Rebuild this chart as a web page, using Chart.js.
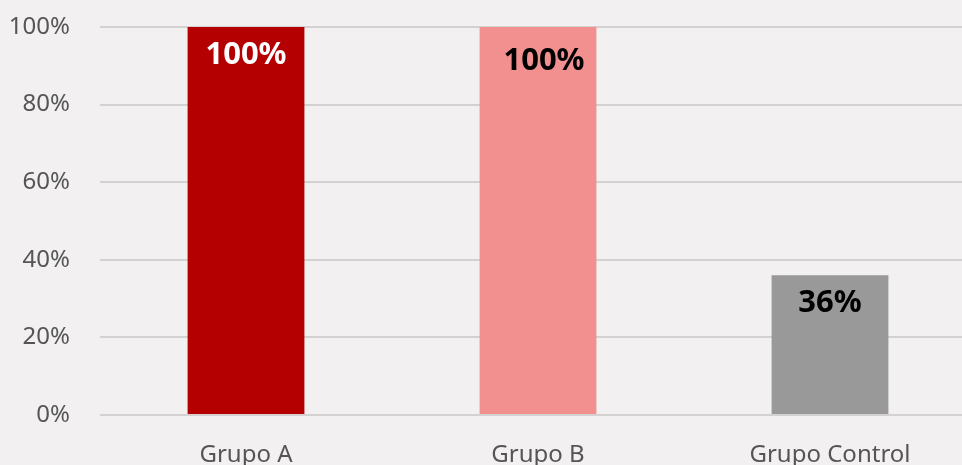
<!DOCTYPE html>
<html>
<head>
<meta charset="utf-8">
<script src="https://cdn.jsdelivr.net/npm/chart.js@4"></script>
<style>
  html, body { margin: 0; padding: 0; background: #f2f0f1; overflow: hidden; }
  #wrap { width: 980px; height: 465px; }
</style>
</head>
<body>
<div id="wrap"><canvas id="chart" width="980" height="465"></canvas></div>
<script>
// Datos
const categorias = ['Grupo A', 'Grupo B', 'Grupo Control'];
const valores = [100, 100, 36];
const coloresBarras = ['#b40000', '#f28f8f', '#999999'];
const coloresEtiquetas = ['#ffffff', '#000000', '#000000'];

const FONT = '"Noto Sans", "Open Sans", sans-serif';

// Etiquetas dentro de las barras
const etiquetasPlugin = {
    id: 'etiquetas',
    afterDatasetsDraw(chart) {
        const ctx = chart.ctx;
        const meta = chart.getDatasetMeta(0);
        ctx.save();
        ctx.font = `bold 31px ${FONT}`;
        ctx.textAlign = 'center';
        ctx.textBaseline = 'middle';
        meta.data.forEach((bar, i) => {
            ctx.fillStyle = coloresEtiquetas[i];
            const dx = i === 1 ? 6 : 0;
            const dy = i === 1 ? 34 : 28;
            ctx.fillText(valores[i] + '%', bar.x + dx, bar.y + dy);
        });
        ctx.restore();
    }
};

new Chart(document.getElementById('chart'), {
    type: 'bar',
    data: {
        labels: categorias,
        datasets: [{
            data: valores,
            backgroundColor: coloresBarras,
            borderWidth: 0,
            categoryPercentage: 1,
            barPercentage: 0.4
        }]
    },
    options: {
        responsive: false,
        animation: false,
        devicePixelRatio: 1,
        layout: { padding: { top: 27, right: 4, bottom: 0, left: 0 } },
        plugins: {
            legend: { display: false },
            tooltip: { enabled: false }
        },
        scales: {
            x: {
                grid: { display: false },
                border: { display: false },
                ticks: { color: '#555555', font: { family: FONT, size: 24 }, padding: 18 },
                afterFit(scale) {
                    scale.height = 50;
                    scale.paddingLeft = 0;
                    scale.paddingRight = 0;
                }
            },
            y: {
                min: 0,
                max: 100,
                grid: { color: '#d3d1d2', lineWidth: 2, drawTicks: false },
                border: { display: false },
                ticks: {
                    stepSize: 20,
                    color: '#555555',
                    font: { family: FONT, size: 24 },
                    padding: 30,
                    callback: v => v + '%'
                },
                afterFit(scale) {
                    scale.width = 100;
                    scale.paddingTop = 0;
                    scale.paddingBottom = 0;
                }
            }
        }
    },
    plugins: [etiquetasPlugin]
});
</script>
</body>
</html>
